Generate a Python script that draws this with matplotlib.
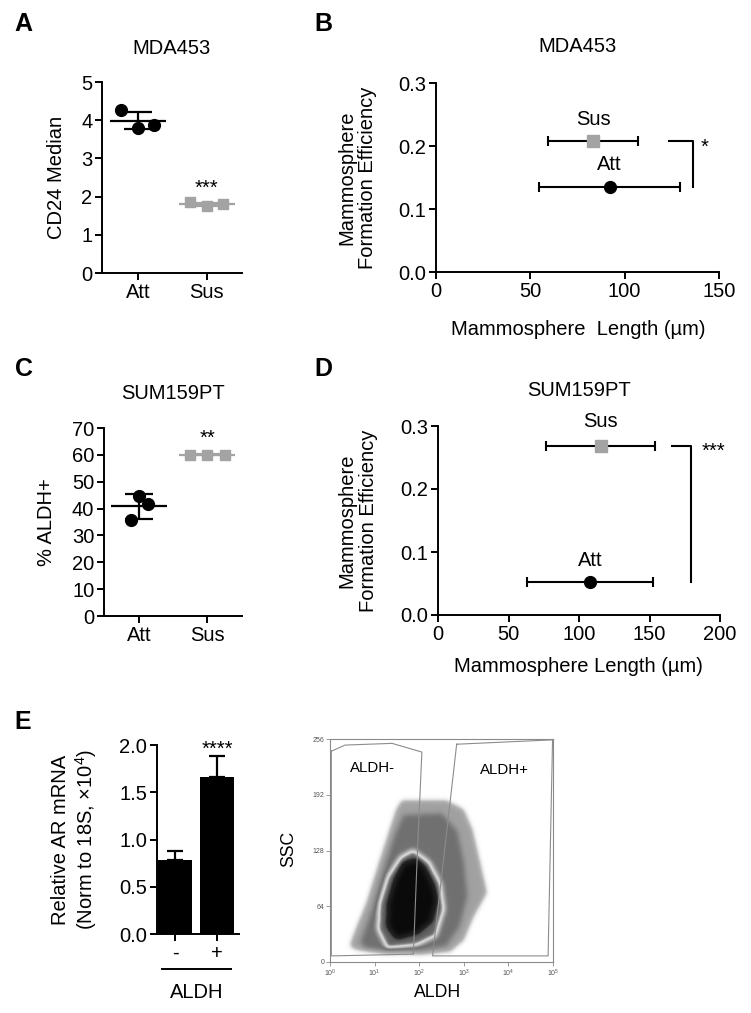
import matplotlib
matplotlib.use('Agg')
import matplotlib.pyplot as plt
import numpy as np
from matplotlib.path import Path
from matplotlib.colors import LinearSegmentedColormap

plt.rcParams['font.family'] = ['Liberation Sans', 'DejaVu Sans']
plt.rcParams['mathtext.fontset'] = 'custom'
plt.rcParams['mathtext.rm'] = 'Liberation Sans'
plt.rcParams['mathtext.it'] = 'Liberation Sans:italic'
plt.rcParams['mathtext.bf'] = 'Liberation Sans:bold'

# ---------------- data ----------------
groups = ['Att', 'Sus']
# Panel A: CD24 median (MDA453)
a_att = [4.27, 3.79, 3.88]
a_sus = [1.85, 1.76, 1.80]
a_mean = [3.99, 1.80]
a_sd = [0.22, 0.04]
a_jitter = [-0.25, 0.0, 0.24]
# Panel C: % ALDH+ (SUM159PT)
c_att = [44.5, 41.6, 35.6]
c_sus = [60.1, 60.1, 60.1]
c_mean = [40.8, 60.1]
c_sd = [4.55, 0.3]
c_jitter_att = [0.0, 0.13, -0.12]
c_jitter_sus = [-0.25, 0.0, 0.26]
# Panel B: mammosphere length vs efficiency (MDA453)
b_len = [92.1, 83.3]          # Att, Sus
b_len_err = [37.4, 24.0]
b_eff = [0.135, 0.208]
# Panel D: (SUM159PT)
d_len = [108.1, 115.5]
d_len_err = [44.7, 38.6]
d_eff = [0.052, 0.269]
# Panel E: Relative AR mRNA
e_labels = ['-', '+']
e_mean = [0.78, 1.66]
e_err = [0.10, 0.22]
# Flow panel: gates and density contours (log10 ALDH, SSC)
flow_decades = [0, 1, 2, 3, 4, 5]
ssc_ticks = [0, 64, 128, 192, 256]
gate_neg = [(0.03, 242), (0.336, 249), (1.39, 251), (2.06, 241), (1.95, 114), (1.87, 9), (0.03, 7)]
gate_pos = [(2.84, 250), (4.99, 255), (4.89, 7), (2.30, 7)]
cloud_outer = [(0.45, 18), (0.52, 29), (0.82, 67), (1.08, 109), (1.35, 152), (1.49, 174), (1.61, 184),
               (2.62, 184), (2.99, 174), (3.18, 152), (3.36, 113), (3.51, 79), (3.21, 52), (2.99, 25),
               (2.69, 12), (2.09, 9), (1.19, 10), (0.60, 14)]
cloud_dense = [(0.68, 22), (0.95, 60), (1.2, 105), (1.45, 145), (1.65, 168), (2.5, 170), (2.85, 150),
               (3.0, 115), (3.08, 75), (2.9, 40), (2.6, 18), (2.0, 13), (1.2, 13), (0.8, 16)]
cloud_light = [(1.87, 129), (2.24, 115), (2.50, 90), (2.58, 60), (2.39, 29), (1.94, 18), (1.27, 14),
               (1.05, 37), (1.08, 67), (1.27, 98), (1.57, 121)]
cloud_core = [(1.91, 115), (2.09, 106), (2.28, 86), (2.35, 71), (2.24, 48), (1.94, 35), (1.50, 29),
              (1.33, 41), (1.35, 67), (1.50, 94), (1.68, 111)]

W, H = 751, 1013
fig = plt.figure(figsize=(W / 100, H / 100), dpi=100)

def ax_px(l, t, r, b):
    return fig.add_axes([l / W, 1 - b / H, (r - l) / W, (b - t) / H])

FS = 14.5
GRAY = '#a3a3a3'
LW = 1.4

def style(ax):
    for s in ['top', 'right']:
        ax.spines[s].set_visible(False)
    for s in ['left', 'bottom']:
        ax.spines[s].set_linewidth(LW)
    ax.tick_params(width=LW, length=5, labelsize=FS, pad=2)

def ylab(ax, text, xpix, left, width, **kw):
    ax.set_ylabel(text, fontsize=FS, **kw)
    ax.yaxis.set_label_coords((xpix - left) / width, 0.5)
    ax.yaxis.label.set_verticalalignment('center')

def star(ax, x, y, s):
    ax.annotate(s, (x, y), xytext=(0, -0.58 * FS), textcoords='offset points',
                ha='center', va='baseline', fontsize=FS, annotation_clip=False)

def letter(x, y, s):
    fig.text(x / W, 1 - y / H, s, fontsize=18, fontweight='bold', ha='center', va='center')

# ---------------- Panel A ----------------
axA = ax_px(102, 82, 242, 273)
style(axA)
axA.scatter(0 + np.array(a_jitter), a_att, marker='o', s=72, color='black', zorder=3)
axA.scatter(1 + np.array(a_jitter), a_sus, marker='s', s=60, color=GRAY, zorder=3)
for i, (m, sd, c) in enumerate(zip(a_mean, a_sd, ['black', GRAY])):
    axA.hlines(m, i - 0.41, i + 0.41, color=c, lw=1.6, zorder=4)
    axA.errorbar(i, m, yerr=sd, fmt='none', ecolor=c, elinewidth=1.6, capsize=10, capthick=1.6, zorder=4)
axA.set_xlim(-0.52, 1.51)
axA.set_ylim(0, 5)
axA.set_yticks(range(0, 6))
axA.set_xticks([0, 1])
axA.set_xticklabels(groups)
ylab(axA, 'CD24 Median', 57, 102, 140)
axA.set_title('MDA453', fontsize=FS, pad=20)
star(axA, 1, 2.39, '***')
letter(23, 24, 'A')

# ---------------- Panel C ----------------
axC = ax_px(104, 428, 242, 616)
style(axC)
axC.scatter(0 + np.array(c_jitter_att), c_att, marker='o', s=72, color='black', zorder=3)
axC.scatter(1 + np.array(c_jitter_sus), c_sus, marker='s', s=60, color=GRAY, zorder=3)
for i, (m, sd, c) in enumerate(zip(c_mean, c_sd, ['black', GRAY])):
    axC.hlines(m, i - 0.41, i + 0.41, color=c, lw=1.6, zorder=4)
    axC.errorbar(i, m, yerr=sd, fmt='none', ecolor=c, elinewidth=1.6, capsize=10, capthick=1.6, zorder=4)
axC.set_xlim(-0.52, 1.51)
axC.set_ylim(0, 70)
axC.set_yticks(range(0, 71, 10))
axC.set_xticks([0, 1])
axC.set_xticklabels(groups)
ylab(axC, '% ALDH+', 47, 104, 138)
axC.set_title('SUM159PT', fontsize=FS, pad=21)
star(axC, 1, 68.5, '**')
letter(24, 369, 'C')

# ---------------- Panels B and D ----------------
def len_panel(ax, lens, errs, effs, xmax, title, lab_dy, bracket, sig, sig_x, pad):
    style(ax)
    ax.errorbar(lens[0], effs[0], xerr=errs[0], fmt='o', color='black', ms=8.5,
                elinewidth=1.5, capsize=3.5, capthick=1.5, zorder=3)
    ax.errorbar(lens[1], effs[1], xerr=errs[1], fmt='s', color='black', mfc=GRAY, mec=GRAY, ms=8.5,
                elinewidth=1.5, capsize=3.5, capthick=1.5, zorder=3)
    for i, g in enumerate(groups):
        ax.text(lens[i], effs[i] + lab_dy[i], g, ha='center', va='center', fontsize=FS)
    x0, x1 = bracket
    ax.plot([x0, x1, x1], [effs[1], effs[1], effs[0]], color='black', lw=1.5, clip_on=False)
    star(ax, sig_x, effs[1], sig)
    ax.set_xlim(0, xmax)
    ax.set_ylim(0, 0.3)
    ax.set_yticks([0, 0.1, 0.2, 0.3])
    ax.set_yticklabels(['0.0', '0.1', '0.2', '0.3'])
    ax.set_xticks(np.arange(0, xmax + 1, 50))
    ax.set_title(title, fontsize=FS, pad=pad)

axB = ax_px(436, 83, 719, 272)
len_panel(axB, b_len, b_len_err, b_eff, 150, 'MDA453', [0.035, 0.034], (123.5, 136.2), '*', 142.5, 22)
ylab(axB, 'Mammosphere\nFormation Efficiency', 357, 436, 283, linespacing=1.15)
axB.set_xlabel('Mammosphere  Length (µm)', fontsize=FS)
axB.xaxis.set_label_coords((578 - 436) / 283, (272 - 329) / 189)
axB.xaxis.label.set_verticalalignment('center')
letter(323, 24, 'B')

axD = ax_px(438, 426, 720, 615)
len_panel(axD, d_len, d_len_err, d_eff, 200, 'SUM159PT', [0.035, 0.038], (166, 179.2), '***', 195, 21.5)
ylab(axD, 'Mammosphere\nFormation Efficiency', 358, 438, 282, linespacing=1.15)
axD.set_xlabel('Mammosphere Length (µm)', fontsize=FS)
axD.xaxis.set_label_coords((578 - 438) / 282, (615 - 667) / 189)
axD.xaxis.label.set_verticalalignment('center')
letter(323, 369, 'D')

# ---------------- Panel E ----------------
axE = ax_px(157, 745, 239, 934)
style(axE)
xe = np.arange(len(e_mean))
axE.bar(xe, e_mean, width=0.81, color='black', zorder=2)
axE.errorbar(xe, e_mean, yerr=[np.zeros(len(e_err)), e_err], fmt='none', ecolor='black',
             elinewidth=1.6, capsize=6, capthick=1.6, zorder=1)
axE.set_xlim(-0.43, 1.52)
axE.set_ylim(0, 2.0)
axE.set_yticks([0, 0.5, 1.0, 1.5, 2.0])
axE.set_yticklabels(['0.0', '0.5', '1.0', '1.5', '2.0'])
axE.set_xticks(xe)
axE.set_xticklabels(e_labels)
ylab(axE, 'Relative AR mRNA\n(Norm to 18S, ×10$^4$)', 75, 157, 82, linespacing=1.2)
star(axE, 1, 2.02, '****')
axE.plot([(162 - 157) / 82, (231 - 157) / 82], [(934 - 969) / 189] * 2, transform=axE.transAxes,
         color='black', lw=1.4, clip_on=False)
axE.text((197 - 157) / 82, (934 - 992) / 189, 'ALDH', transform=axE.transAxes, ha='center',
         va='center', fontsize=FS)
letter(23, 722, 'E')

# ---------------- Flow panel ----------------
axF = ax_px(330, 739, 553, 962)
axF.set_xlim(0, 5)
axF.set_ylim(0, 256)

# density level field from the contour polygons, softened for a cytometry look
nx, ny = 360, 360
gx = np.linspace(0, 5, nx)
gy = np.linspace(0, 256, ny)
GX, GY = np.meshgrid(gx, gy)
pts = np.column_stack([GX.ravel(), GY.ravel()])
level = np.zeros(nx * ny)
for poly_pts in [cloud_outer, cloud_dense, cloud_light, cloud_core]:
    level += Path(np.array(poly_pts, dtype=float)).contains_points(pts)
level = level.reshape(ny, nx)

def smooth(img, sig):
    k = np.arange(-3 * sig, 3 * sig + 1)
    ker = np.exp(-0.5 * (k / sig) ** 2)
    ker /= ker.sum()
    out = np.apply_along_axis(lambda r: np.convolve(r, ker, mode='same'), 1, img)
    out = np.apply_along_axis(lambda c: np.convolve(c, ker, mode='same'), 0, out)
    return out

level = smooth(level, 4)
cmap = LinearSegmentedColormap.from_list('flow', [
    (0.0, '#ffffff'), (0.05, '#ececec'), (0.15, '#b4b4b4'), (0.3, '#979797'),
    (0.5, '#707070'), (0.6, '#b0b0b0'), (0.69, '#e2e2e2'), (0.78, '#222222'), (1.0, '#0a0a0a')])
axF.imshow(level, extent=(0, 5, 0, 256), origin='lower', aspect='auto', cmap=cmap, vmin=0, vmax=4,
           interpolation='bilinear', zorder=1)

for g in [gate_neg, gate_pos]:
    arr = np.array(g + [g[0]], dtype=float)
    axF.plot(arr[:, 0], arr[:, 1], color='#8c8c8c', lw=0.8, zorder=5)
axF.text(0.96, 223, 'ALDH-', ha='center', va='center', fontsize=10.8)
axF.text(3.92, 220, 'ALDH+', ha='center', va='center', fontsize=10.8)
for s in axF.spines.values():
    s.set_linewidth(0.8)
    s.set_color('#8a8a8a')
axF.set_yticks(ssc_ticks)
axF.set_xticks(flow_decades)
axF.set_xticklabels(['$10^{%d}$' % k for k in flow_decades])
axF.tick_params(labelsize=5, length=3, width=0.6, color='#8a8a8a', labelcolor='#555555', pad=1)
axF.set_ylabel('SSC', fontsize=12.7)
axF.yaxis.set_label_coords((289 - 330) / 223, (962 - 849) / 223)
axF.yaxis.label.set_verticalalignment('center')
axF.set_xlabel('ALDH', fontsize=12.7)
axF.xaxis.set_label_coords((438 - 330) / 223, (962 - 992) / 223)
axF.xaxis.label.set_verticalalignment('center')

fig.savefig('out.png', dpi=100)
